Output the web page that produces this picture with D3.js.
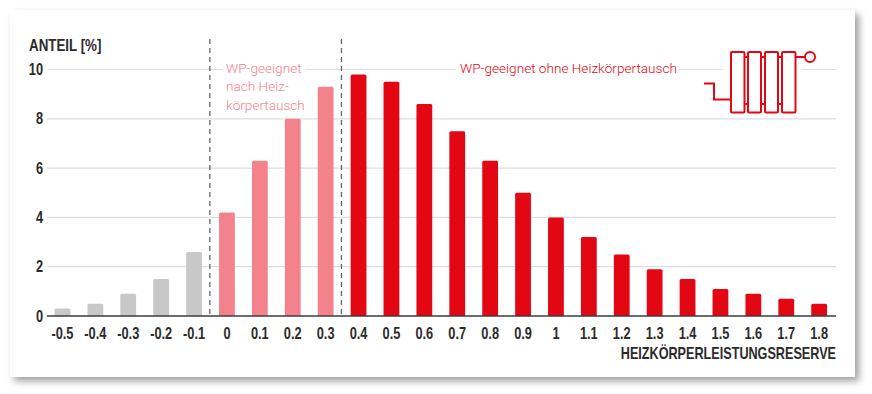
<!DOCTYPE html>
<html><head><meta charset="utf-8">
<script src="https://cdn.jsdelivr.net/npm/d3@7/dist/d3.min.js"></script>
<style>
html,body{margin:0;padding:0;background:#fff;overflow:hidden}
#card{position:absolute;left:10px;top:10px;width:845px;height:367px;background:#fff;box-shadow:4px 4px 7px rgba(0,0,0,.38)}
svg{position:absolute;left:0;top:0}
text{font-family:"Liberation Sans",sans-serif}
.b{font-weight:700;fill:#2b2b2b;font-size:16px}
.l{font-family:Roboto,"Liberation Sans",sans-serif;font-weight:300;font-size:13.6px}
</style></head><body><div id="card"></div><div id="c"></div>
<script>
const categories=["-0.5","-0.4","-0.3","-0.2","-0.1","0","0.1","0.2","0.3","0.4","0.5","0.6","0.7","0.8","0.9","1","1.1","1.2","1.3","1.4","1.5","1.6","1.7","1.8"];
const values=[0.3,0.5,0.9,1.5,2.6,4.2,6.3,8,9.3,9.8,9.5,8.6,7.5,6.3,5,4,3.2,2.5,1.9,1.5,1.1,0.9,0.7,0.5];
const groups=["g","g","g","g","g","p","p","p","p","r","r","r","r","r","r","r","r","r","r","r","r","r","r","r"];
const yTicks=[0,2,4,6,8,10];
const colours={g:"#c8c8c8",p:"#f3828c",r:"#e30613"};
const svg=d3.select("#c").append("svg").attr("width",872).attr("height",394);
const x=d3.scaleBand().domain(categories).range([46,835.6]).paddingInner(0.52).paddingOuter(0.26);
const y=d3.scaleLinear().domain([0,10]).range([316,69.5]);
const x0=47,x1=836;
const place=(px,py,s=0.8)=>`translate(${px},${py}) scale(${s},1)`;
svg.append("g").selectAll("line").data(yTicks.filter(d=>d>0)).join("line")
 .attr("x1",x0).attr("x2",x1).attr("y1",d=>y(d)).attr("y2",d=>y(d)).attr("stroke","#dedede").attr("stroke-width",1.2);
svg.selectAll("path.bar").data(values).join("path").attr("class","bar")
 .attr("fill",(d,i)=>colours[groups[i]])
 .attr("d",(d,i)=>{const a=x(categories[i]),w=x.bandwidth(),t=y(d),r=1.5,b=y(0);
   return `M${a},${b}V${t+r}Q${a},${t} ${a+r},${t}H${a+w-r}Q${a+w},${t} ${a+w},${t+r}V${b}Z`;});
svg.append("line").attr("x1",x0).attr("x2",x1).attr("y1",y(0)).attr("y2",y(0)).attr("stroke","#3c3c3c").attr("stroke-width",1.3);
["0","0.4"].forEach(c=>{const px=x(c)-9.2;
 svg.append("line").attr("x1",px).attr("x2",px).attr("y1",39).attr("y2",316).attr("stroke","#666").attr("stroke-width",1.3).attr("stroke-dasharray","5 4");});
svg.selectAll("text.yt").data(yTicks).join("text").attr("class","b yt").attr("text-anchor","end")
 .attr("transform",d=>place(43,y(d)+5.5)).text(d=>d);
svg.selectAll("text.xt").data(categories).join("text").attr("class","b xt").attr("text-anchor","middle")
 .attr("transform",d=>place(x(d)+x.bandwidth()/2,339)).text(d=>d);
svg.append("text").attr("class","b").attr("transform",place(29,51,0.835)).text("ANTEIL [%]");
svg.append("text").attr("class","b").attr("text-anchor","end").attr("transform",place(836,359,0.79)).text("HEIZKÖRPERLEISTUNGSRESERVE");
svg.append("rect").attr("x",223).attr("y",60).attr("width",83).attr("height",18).attr("fill","#fff");
[["WP-geeignet",73],["nach Heiz-",91],["körpertausch",110]].forEach(([t,py])=>svg.append("text").attr("class","l").attr("x",226).attr("y",py).attr("fill","#f3828c").text(t));
svg.append("rect").attr("x",456).attr("y",60).attr("width",223).attr("height",18).attr("fill","#fff");
svg.append("text").attr("class","l").attr("x",460).attr("y",73).attr("fill","#e30613").text("WP-geeignet ohne Heizkörpertausch");
svg.append("rect").attr("x",723).attr("y",45).attr("width",79).attr("height",72).attr("fill","#fff");
const ic=svg.append("g").attr("fill","none").attr("stroke","#e30613").attr("stroke-width",2);
[[731,744.5],[748,761],[765,778],[782,795.5]].forEach(([a,b])=>ic.append("rect").attr("x",a).attr("y",52).attr("width",b-a).attr("height",60.5).attr("rx",1));
[[744.5,748],[761,765],[778,782]].forEach(([a,b])=>[57,104].forEach(v=>ic.append("line").attr("x1",a).attr("x2",b).attr("y1",v).attr("y2",v)));
ic.append("path").attr("d","M704,83.5H714V99.5H731");
ic.append("path").attr("d","M795.5,57H805");
ic.append("circle").attr("cx",810).attr("cy",57).attr("r",5);
</script></body></html>
